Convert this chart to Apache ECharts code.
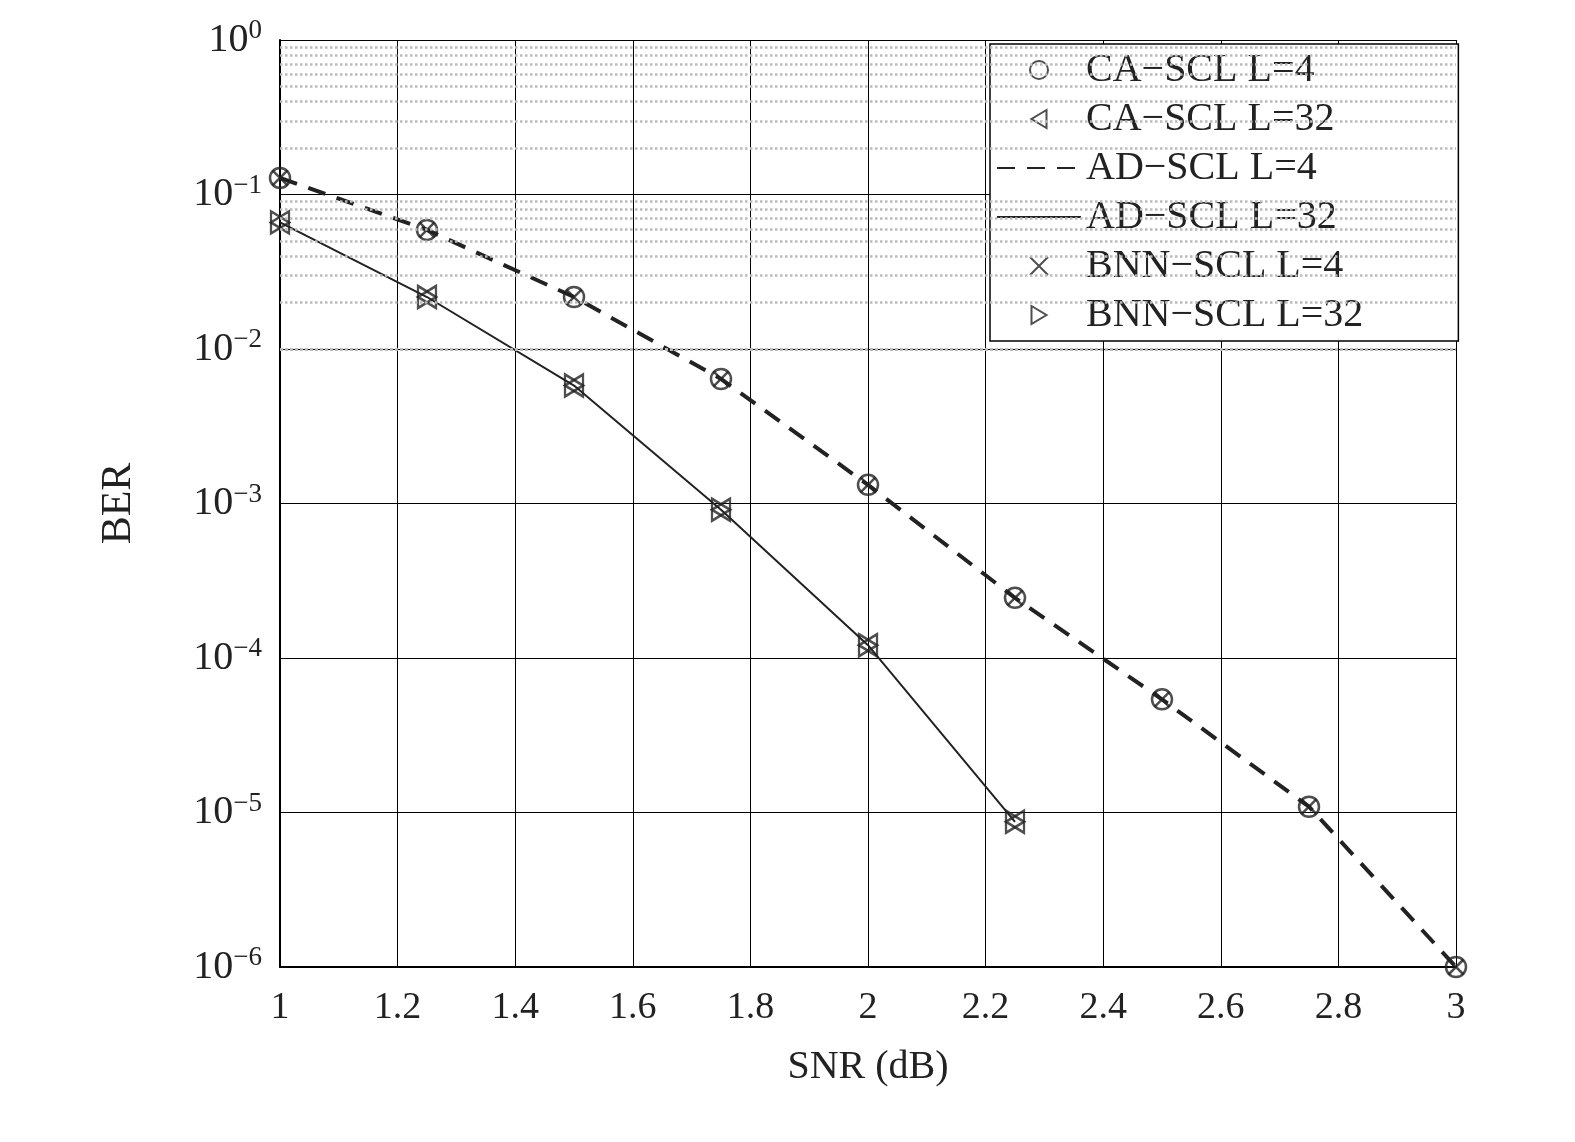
<!DOCTYPE html>
<html><head><meta charset="utf-8">
<script src="https://cdn.jsdelivr.net/npm/echarts@6/dist/echarts.min.js"></script>
<style>body{margin:0;background:#fff}#c{width:1575px;height:1142px}</style>
</head><body><div id="c"></div>
<script>
// SNR points (dB)
const snr4 = [1, 1.25, 1.5, 1.75, 2, 2.25, 2.5, 2.75, 3];
const ber4 = [0.128, 0.059, 0.0217, 0.0064, 0.00132, 2.45e-4, 5.4e-5, 1.09e-5, 1.0e-6];
const snr32 = [1, 1.25, 1.5, 1.75, 2, 2.25];
const ber32 = [0.066, 0.0217, 0.0058, 9.1e-4, 1.21e-4, 8.7e-6];

const pairs = (xs, ys) => xs.map((x, i) => [x, ys[i]]);
const font = 'Liberation Serif';
const crossPath = 'path://M0,0L10,10M10,0L0,10';
const triLeft = 'path://M10,0L0,6L10,12Z';
const triRight = 'path://M0,0L10,6L0,12Z';

// minor log grid lines (2..9 x 10^k)
const minor = [];
for (let k = -6; k < 0; k++) for (let m = 2; m <= 9; m++) minor.push({ yAxis: m * Math.pow(10, k) });

const hollow = { color: 'rgba(0,0,0,0)', borderColor: '#222', borderWidth: 2.5 };

let myChart = echarts.init(document.getElementById('c'));
myChart.setOption({
  animation: false,
  textStyle: { fontFamily: font },
  grid: { left: 280, right: 119, top: 40, bottom: 175 },
  legend: {
    orient: 'vertical', left: 990, top: 44, itemGap: 9,
    backgroundColor: '#fff', borderColor: '#000', borderWidth: 1.5,
    padding: [6, 95, 6, 6], itemWidth: 84, itemHeight: 18,
    textStyle: { fontFamily: font, fontSize: 40, color: '#222' },
    data: [
      { name: 'CA\u2212SCL L=4', icon: 'circle' },
      { name: 'CA\u2212SCL L=32', icon: triLeft },
      { name: 'AD\u2212SCL L=4', itemStyle: { opacity: 0 } },
      { name: 'AD\u2212SCL L=32', itemStyle: { opacity: 0 } },
      { name: 'BNN\u2212SCL L=4', icon: crossPath },
      { name: 'BNN\u2212SCL L=32', icon: triRight }
    ]
  },
  xAxis: {
    type: 'value', min: 1, max: 3, interval: 0.2,
    name: 'SNR (dB)', nameLocation: 'middle', nameGap: 80,
    nameTextStyle: { fontFamily: font, fontSize: 40, color: '#222' },
    axisLine: { show: true, onZero: false, lineStyle: { color: '#000', width: 2 } },
    axisTick: { inside: true, length: 10, lineStyle: { color: '#000' } },
    axisLabel: { fontFamily: font, fontSize: 38, color: '#222', margin: 22,
      formatter: v => +v.toFixed(1) + '' },
    splitLine: { show: true, lineStyle: { color: '#000', width: 1 } }
  },
  yAxis: {
    type: 'log', logBase: 10, min: 1e-6, max: 1,
    name: 'BER', nameLocation: 'middle', nameGap: 140, nameRotate: 90,
    nameTextStyle: { fontFamily: font, fontSize: 42, color: '#222' },
    axisLine: { show: true, lineStyle: { color: '#000', width: 2 } },
    axisTick: { inside: true, length: 10, lineStyle: { color: '#000' } },
    axisLabel: {
      fontFamily: font, fontSize: 40, color: '#222', margin: 18,
      formatter: v => { const e = Math.round(Math.log10(v)); return '10{s|' + (e < 0 ? '\u2212' + (-e) : e) + '}'; },
      rich: { s: { fontFamily: font, fontSize: 27, verticalAlign: 'top', padding: [0, 0, 18, 0], color: '#222' } }
    },
    splitLine: { show: true, lineStyle: { color: '#000', width: 1 } }
  },
  series: [
    { name: 'grid', type: 'line', data: [[1, 1e-6], [3, 1]], silent: true, symbol: 'none',
      lineStyle: { opacity: 0 }, z: 1,
      markLine: { silent: true, symbol: 'none', label: { show: false },
        lineStyle: { color: '#bbb', type: 'dotted', width: 2.5 }, data: minor } },
    { name: 'AD\u2212SCL L=4', type: 'line', data: pairs(snr4, ber4), showSymbol: false, symbol: 'none',
      lineStyle: { color: '#222', width: 4, type: [18, 12] }, itemStyle: { color: '#222' } },
    { name: 'AD\u2212SCL L=32', type: 'line', data: pairs(snr32, ber32), showSymbol: false, symbol: 'none',
      lineStyle: { color: '#222', width: 2 }, itemStyle: { color: '#222' } },
    { name: 'CA\u2212SCL L=4', type: 'scatter', data: pairs(snr4, ber4), symbol: 'circle', symbolSize: 20, itemStyle: hollow },
    { name: 'BNN\u2212SCL L=4', type: 'scatter', data: pairs(snr4, ber4), symbol: crossPath, symbolSize: 15, itemStyle: hollow },
    { name: 'CA\u2212SCL L=32', type: 'scatter', data: pairs(snr32, ber32), symbol: triLeft, symbolSize: [18, 22], itemStyle: hollow },
    { name: 'BNN\u2212SCL L=32', type: 'scatter', data: pairs(snr32, ber32), symbol: triRight, symbolSize: [18, 22], itemStyle: hollow }
  ]
});
</script></body></html>
